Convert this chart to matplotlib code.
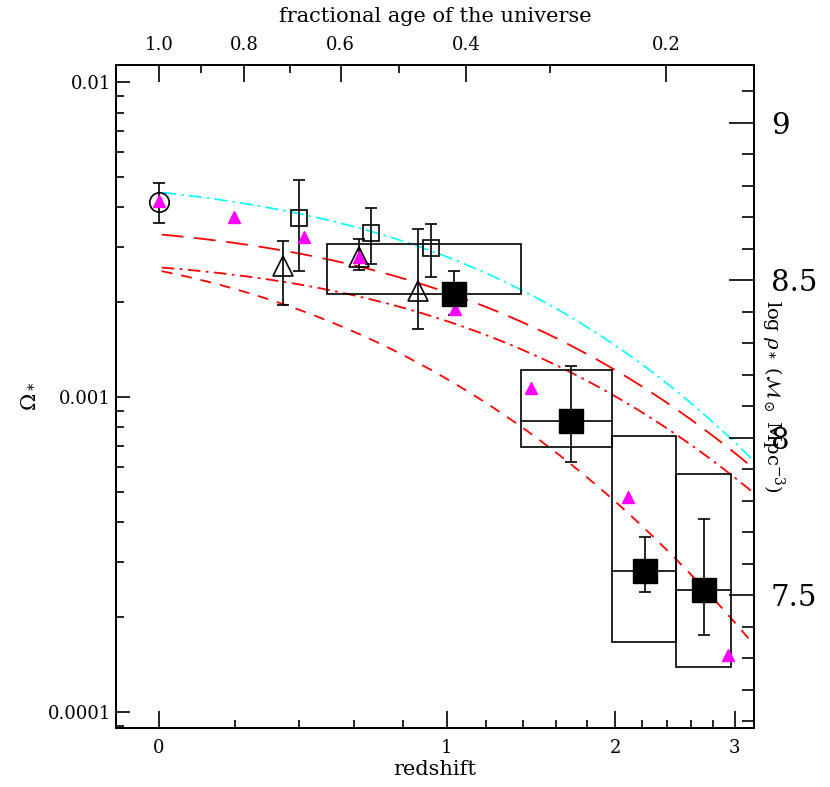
import numpy as np
import matplotlib
matplotlib.use("Agg")
import matplotlib.pyplot as plt
from matplotlib.patches import Rectangle

plt.rcParams['font.family'] = 'DejaVu Serif'
plt.rcParams['mathtext.fontset'] = 'dejavuserif'

# local circle
circ_z = [0.0]; circ_om = [0.00416]; circ_lo = [0.00356]; circ_hi = [0.00477]
# open squares
sq_z = [0.401, 0.667, 0.925]
sq_om = [0.00370, 0.00332, 0.00297]
sq_lo = [0.00251, 0.00264, 0.00241]
sq_hi = [0.00489, 0.00398, 0.00354]
# open triangles
tri_z = [0.348, 0.619, 0.866]
tri_om = [0.00261, 0.00278, 0.00217]
tri_lo = [0.00196, 0.00253, 0.00164]
tri_hi = [0.00313, 0.00318, 0.00341]
# filled squares
fs_z = [1.035, 1.698, 2.224, 2.716]
fs_om = [0.00212, 0.00084, 0.000281, 0.000244]
fs_lo = [0.00182, 0.000622, 0.00024, 0.000175]
fs_hi = [0.00251, 0.00125, 0.00036, 0.00041]
# boxes (z range, omega range, midline)
box_z0 = [0.499, 1.392, 1.977, 2.474]
box_z1 = [1.392, 1.977, 2.474, 2.966]
box_lo = [0.00212, 0.000693, 0.000167, 0.000139]
box_hi = [0.00306, 0.00122, 0.000752, 0.00057]
box_mid = [None, 0.00084, 0.000281, 0.000244]
# magenta triangles
mg_z = [0.0, 0.198, 0.418, 0.619, 1.04, 1.449, 2.094, 2.937]
mg_om = [0.00419, 0.00373, 0.00322, 0.00278, 0.00190, 0.00107, 0.000482, 0.000152]
# model curves
cy_z = [0.01, 0.401, 0.925, 1.444, 2.186, 2.68, 3.193]
cy_om = [0.00444, 0.00389, 0.00282, 0.00215, 0.00131, 0.000877, 0.000631]
ld_z = [0.007, 0.339, 0.774, 1.444, 1.872, 2.263, 2.955, 3.193]
ld_om = [0.00327, 0.00295, 0.00239, 0.00169, 0.00131, 0.00104, 0.000689, 0.000586]
dd_z = [0.007, 0.394, 0.774, 1.444, 1.985, 2.482, 2.955, 3.193]
dd_om = [0.00259, 0.00223, 0.00199, 0.00138, 0.00101, 0.000746, 0.000574, 0.000495]
sd_z = [0.007, 0.187, 0.51, 0.844, 1.274, 1.672, 2.013, 2.396, 2.835, 3.193]
sd_om = [0.00251, 0.00223, 0.00172, 0.00131, 0.000896, 0.000631, 0.000461, 0.000327, 0.000216, 0.000166]
# top axis: fractional age ticks (redshift positions)
age_labels = ['1.0', '0.8', '0.6', '0.4', '0.2']
age_z = [0.0, 0.227, 0.549, 1.094, 2.39]
age_minor_z = [0.106, 0.371, 0.782, 1.564]
rho_offset = 11.13

fwd = lambda z: np.log10(1 + np.asarray(z, float))
inv = lambda u: 10 ** np.asarray(u, float) - 1

fig = plt.figure(figsize=(8.3, 7.87), dpi=100)
ax = fig.add_axes([116/830, 1-728/787, 638/830, 663/787])
ax.set_xscale('function', functions=(fwd, inv))
ax.set_yscale('log')
ax.set_xlim(-0.098, 3.19)
ax.set_ylim(10**-4.051, 10**-1.946)

def smooth(zs, oms):
    u = fwd(zs); lo = np.log10(oms)
    uu = np.linspace(u[0], u[-1], 200)
    c = np.polyfit(u, lo, 3)
    return inv(uu), 10**np.polyval(c, uu)

zz, oo = smooth(cy_z, cy_om)
ax.plot(zz, oo, color='cyan', lw=1.2, dashes=[8, 3, 1.5, 3])
zz, oo = smooth(ld_z, ld_om)
ax.plot(zz, oo, color='red', lw=1.3, dashes=[12, 6])
zz, oo = smooth(dd_z, dd_om)
ax.plot(zz, oo, color='red', lw=1.3, dashes=[7, 3, 1.5, 3])
zz, oo = smooth(sd_z, sd_om)
ax.plot(zz, oo, color='red', lw=1.3, dashes=[6, 5])

for z0, z1, lo, hi, mid in zip(box_z0, box_z1, box_lo, box_hi, box_mid):
    ax.add_patch(Rectangle((z0, lo), z1 - z0, hi - lo, fill=False, ec='black', lw=1.2, zorder=3))
    if mid is not None:
        ax.plot([z0, z1], [mid, mid], color='black', lw=1.2, zorder=3)

def eb(z, om, lo, hi, **kw):
    om = np.array(om)
    yerr = [om - np.array(lo), np.array(hi) - om]
    ax.errorbar(z, om, yerr=yerr, fmt='none', ecolor='black', elinewidth=1.2, capsize=4, capthick=1.2, zorder=4)
    ax.plot(z, om, ls='none', zorder=5, **kw)

eb(circ_z, circ_om, circ_lo, circ_hi, marker='o', ms=14, mfc='none', mec='black', mew=1.2)
eb(sq_z, sq_om, sq_lo, sq_hi, marker='s', ms=11, mfc='none', mec='black', mew=1.2)
eb(tri_z, tri_om, tri_lo, tri_hi, marker='^', ms=15, mfc='none', mec='black', mew=1.2)
ax.plot(mg_z, mg_om, ls='none', marker='^', ms=8, color='magenta', mec='magenta', zorder=4.5)
eb(fs_z, fs_om, fs_lo, fs_hi, marker='s', ms=17, mfc='black', mec='black')

ax.set_xticks([0, 1, 2, 3])
ax.set_xticklabels(['0', '1', '2', '3'])
ax.set_xticks([0.2, 0.4, 0.6, 0.8, 1.2, 1.4, 1.6, 1.8, 2.2, 2.4, 2.6, 2.8], minor=True)
ax.xaxis.set_minor_formatter(plt.NullFormatter())
ax.set_yticks([1e-4, 1e-3, 1e-2])
ax.set_yticklabels(['0.0001', '0.001', '0.01'])
ax.tick_params(axis='x', which='major', direction='in', length=12, width=1.2, labelsize=13, pad=8, top=False)
ax.tick_params(axis='x', which='minor', direction='in', length=6, width=1.2, top=False)
ax.tick_params(axis='y', which='major', direction='in', length=10, width=1.2, labelsize=13, right=False)
ax.tick_params(axis='y', which='minor', direction='in', length=6, width=1.2, right=False)
ax.set_xlabel('redshift', fontsize=15, labelpad=2)
ax.set_ylabel(r'$\Omega_*$', fontsize=15, labelpad=8)

axt = ax.twiny()
axt.set_xscale('function', functions=(fwd, inv))
axt.set_xlim(ax.get_xlim())
axt.set_xticks(age_z)
axt.set_xticklabels(age_labels)
axt.set_xticks(age_minor_z, minor=True)
axt.xaxis.set_minor_formatter(plt.NullFormatter())
axt.tick_params(axis='x', which='major', direction='in', length=12, width=1.2, labelsize=13, pad=8)
axt.tick_params(axis='x', which='minor', direction='in', length=6, width=1.2)
axt.set_xlabel('fractional age of the universe', fontsize=15, labelpad=10)

axr = ax.twinx()
axr.set_ylim(np.log10(ax.get_ylim()[0]) + rho_offset, np.log10(ax.get_ylim()[1]) + rho_offset)
axr.set_yticks([7.5, 8, 8.5, 9])
axr.set_yticklabels(['7.5', '8', '8.5', '9'])
axr.set_yticks(np.arange(7.1, 9.2, 0.1), minor=True)
axr.tick_params(axis='y', which='major', direction='in', length=18, width=1.2, labelsize=21, pad=12)
axr.tick_params(axis='y', which='minor', direction='in', length=9, width=1.2)
axr.set_ylabel(r'log $\rho_*$ ($\mathcal{M}_\odot$ Mpc$^{-3}$)', fontsize=14, rotation=-90, labelpad=-22)

for a in (ax, axt, axr):
    for s in a.spines.values():
        s.set_linewidth(1.2)

fig.savefig('out.png', dpi=100)
